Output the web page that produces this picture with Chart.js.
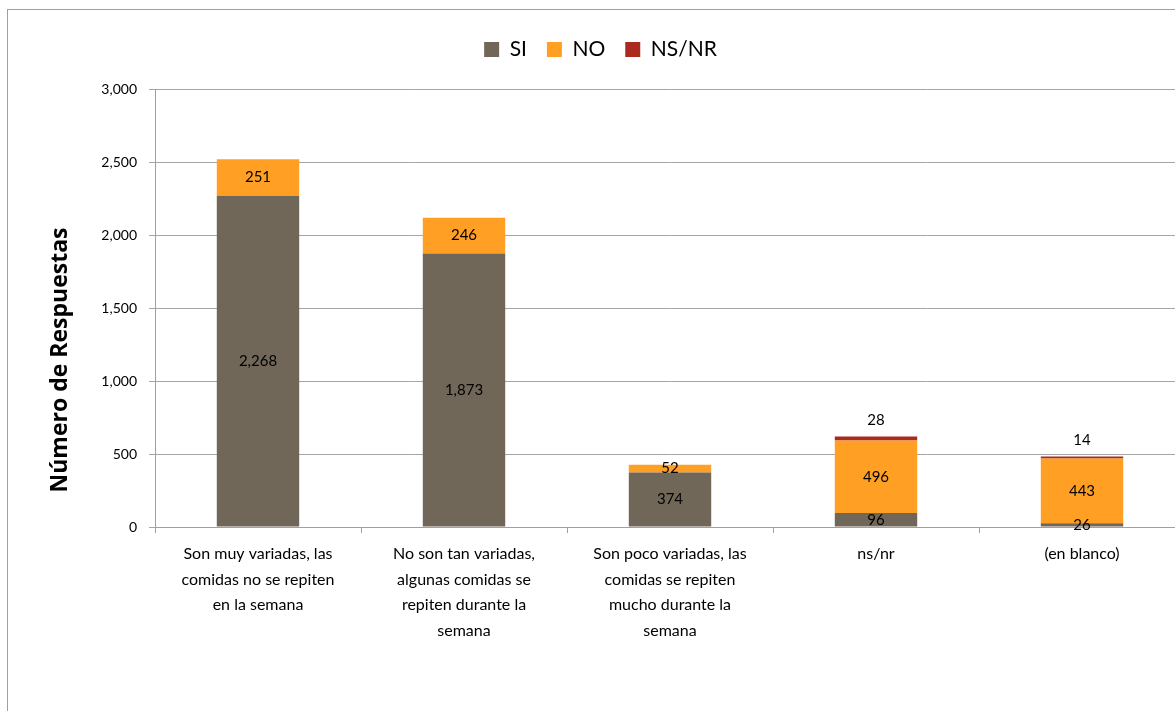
<!DOCTYPE html>
<html>
<head>
<meta charset="utf-8">
<script src="https://cdn.jsdelivr.net/npm/chart.js@4"></script>
<style>
  html, body { margin: 0; padding: 0; background: #fff; overflow: hidden; }
  #marco { position: absolute; left: 7px; top: 9px; width: 2000px; height: 2000px; border: 1px solid #a0a0a0; }
  #wrap { position: absolute; left: 0; top: 0; width: 1190px; height: 711px; }
</style>
</head>
<body>
<div id="marco"></div>
<div id="wrap"><canvas id="grafico" width="1190" height="711"></canvas></div>
<script>
// ===== DATOS =====
const categorias = [
  ["Son muy variadas, las", "comidas no se repiten", "en la semana"],
  ["No son tan variadas,", "algunas comidas se", "repiten durante la", "semana"],
  ["Son poco variadas, las", "comidas se repiten", "mucho durante la", "semana"],
  "ns/nr",
  "(en blanco)"
];
const valoresSI = [2268, 1873, 374, 96, 26];
const valoresNO = [251, 246, 52, 496, 443];
const valoresNSNR = [0, 0, 0, 28, 14];

const fuente = "Lato, 'Open Sans', sans-serif";

// ===== ETIQUETAS DE DATOS =====
const etiquetas = {
  id: 'etiquetas',
  afterDatasetsDraw(chart) {
    const ctx = chart.ctx;
    ctx.save();
    ctx.fillStyle = '#000';
    ctx.font = '15px ' + fuente;
    ctx.textAlign = 'center';
    ctx.textBaseline = 'middle';
    chart.data.datasets.forEach((ds, i) => {
      const meta = chart.getDatasetMeta(i);
      meta.data.forEach((el, j) => {
        const v = ds.data[j];
        if (!v) return;
        let y = (el.y + el.base) / 2;
        if (i === 2) y = el.y - 16; // NS/NR arriba de la barra
        ctx.fillText(v.toLocaleString('en-US'), el.x, y);
      });
    });
    ctx.restore();
  }
};

// ===== TITULO DEL EJE Y (un poco mas abajo, como el original) =====
const tituloY = {
  id: 'tituloY',
  afterDraw(chart) {
    const ctx = chart.ctx;
    ctx.save();
    ctx.translate(60, 360);
    ctx.rotate(-Math.PI / 2);
    ctx.fillStyle = '#000';
    ctx.font = "bold 23px 'Open Sans', Lato, sans-serif";
    ctx.textAlign = 'center';
    ctx.textBaseline = 'middle';
    ctx.fillText('Número de Respuestas', 0, 0);
    ctx.restore();
  }
};

// ===== AJUSTE DE LA LEYENDA =====
const ajusteLeyenda = {
  id: 'ajusteLeyenda',
  beforeInit(chart) {
    const fitOrig = chart.legend.fit;
    chart.legend.fit = function () {
      fitOrig.bind(chart.legend)();
      this.height += 19;
    };
  },
  afterLayout(chart) {
    chart.legend.left -= 16;
    chart.legend.right -= 16;
  }
};

new Chart(document.getElementById("grafico").getContext("2d"), {
  type: 'bar',
  data: {
    labels: categorias,
    datasets: [
      { label: 'SI', data: valoresSI, backgroundColor: '#706758' },
      { label: 'NO', data: valoresNO, backgroundColor: '#FFA024' },
      { label: 'NS/NR', data: valoresNSNR, backgroundColor: '#AB2A1E' }
    ]
  },
  options: {
    responsive: false,
    animation: false,
    layout: { padding: { left: 48, right: 5, top: 19, bottom: 0 } },
    datasets: { bar: { barPercentage: 0.4, categoryPercentage: 1 } },
    plugins: {
      legend: {
        position: 'top',
        labels: {
          boxWidth: 15, boxHeight: 15, padding: 20,
          color: '#000',
          font: { size: 21, family: fuente }
        }
      },
      tooltip: { enabled: false }
    },
    scales: {
      x: {
        stacked: true,
        grid: { drawOnChartArea: false, offset: true, tickLength: 6, color: '#a0a0a0' },
        border: { color: '#a0a0a0' },
        ticks: { color: '#000', padding: 8, maxRotation: 0, font: { size: 16, family: fuente, lineHeight: 1.6 } },
        afterFit: s => { s.height = 184; }
      },
      y: {
        stacked: true,
        min: 0, max: 3000,
        grid: { color: '#a6a6a6', tickLength: 6 },
        border: { color: '#a0a0a0' },
        ticks: {
          stepSize: 500, color: '#000', padding: 12,
          font: { size: 14, family: fuente },
          callback: v => v.toLocaleString('en-US')
        },
        afterFit: s => { s.width = 107; }
      }
    }
  },
  plugins: [etiquetas, tituloY, ajusteLeyenda]
});
</script>
</body>
</html>
